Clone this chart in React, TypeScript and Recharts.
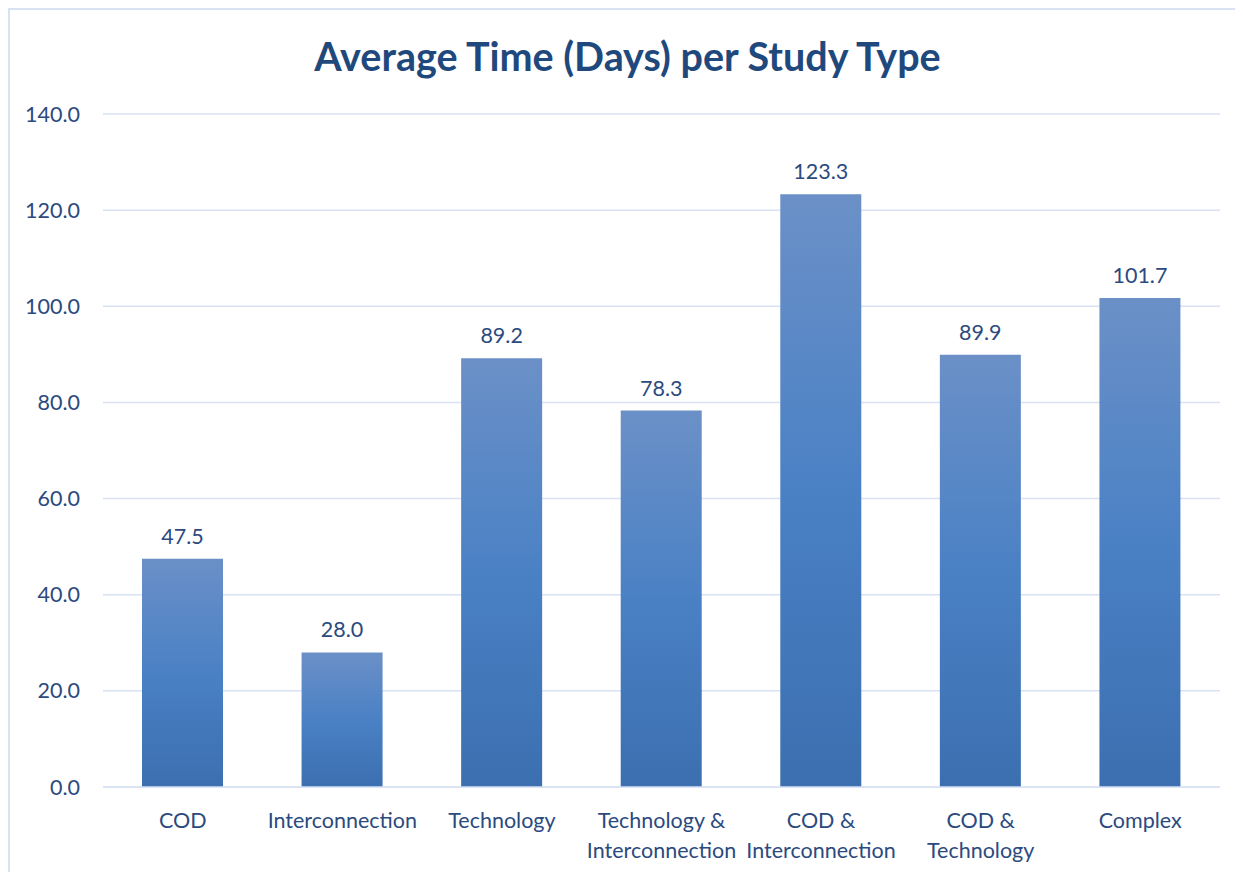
import { BarChart, Bar, XAxis, YAxis, CartesianGrid, LabelList } from "recharts";

const studyTypes = [
  "COD",
  "Interconnection",
  "Technology",
  "Technology & Interconnection",
  "COD & Interconnection",
  "COD & Technology",
  "Complex",
];
const avgDays = [47.5, 28.0, 89.2, 78.3, 123.3, 89.9, 101.7];
const yTicks = [0, 20, 40, 60, 80, 100, 120, 140];

const data = studyTypes.map((name, i) => ({ name, days: avgDays[i] }));

const FONT = "Lato, 'Open Sans', sans-serif";
const TEXT = "#2b4a7e";
const GRID = "#d9e2f3";
const FS = 21.5;

function WrapTick(props: any) {
  const { x, y, payload } = props;
  const label: string = payload.value;
  const amp = label.indexOf(" & ");
  const lines = amp >= 0 ? [label.slice(0, amp) + " &", label.slice(amp + 3)] : [label];
  return (
    <text x={x} y={y} textAnchor="middle" fill={TEXT} fontSize={FS} fontFamily={FONT}>
      {lines.map((l, i) => (
        <tspan key={i} x={x} dy={i === 0 ? 33 : 30}>
          {l}
        </tspan>
      ))}
    </text>
  );
}

export default function App() {
  return (
    <div
      style={{
        position: "relative",
        width: 1235,
        height: 864,
        borderTop: `2px solid ${GRID}`,
        borderLeft: `2px solid ${GRID}`,
        boxSizing: "border-box",
        background: "#fff",
      }}
    >
      <div
        style={{
          position: "absolute",
          top: 22,
          left: 0,
          width: 1235,
          textAlign: "center",
          fontFamily: FONT,
          fontWeight: 700,
          fontSize: 39.5,
          color: "#1f497d",
        }}
      >
        Average Time (Days) per Study Type
      </div>
      <BarChart
        width={1233}
        height={862}
        data={data}
        margin={{ top: 104, right: 23, bottom: 5, left: 0 }}
        barSize={81}
      >
        <defs>
          <linearGradient id="barFill" x1="0" y1="0" x2="0" y2="1">
            <stop offset="0%" stopColor="#6b90c7" />
            <stop offset="50%" stopColor="#4a81c5" />
            <stop offset="100%" stopColor="#3b6fb0" />
          </linearGradient>
        </defs>
        <CartesianGrid vertical={false} stroke={GRID} strokeWidth={1.5} />
        <XAxis
          dataKey="name"
          interval={0}
          height={80}
          tickLine={false}
          axisLine={{ stroke: GRID, strokeWidth: 1.5 }}
          tick={<WrapTick />}
        />
        <YAxis
          width={93}
          domain={[0, 140]}
          ticks={yTicks}
          tickFormatter={(v: number) => v.toFixed(1)}
          axisLine={false}
          tickLine={false}
          tickSize={0}
          tickMargin={23}
          tick={{ fill: TEXT, fontSize: FS, fontFamily: FONT }}
        />
        <Bar dataKey="days" fill="url(#barFill)" isAnimationActive={false}>
          <LabelList
            dataKey="days"
            position="top"
            offset={15}
            formatter={(v: any) => Number(v).toFixed(1)}
            style={{ fill: TEXT, fontSize: FS, fontFamily: FONT }}
          />
        </Bar>
      </BarChart>
    </div>
  );
}
